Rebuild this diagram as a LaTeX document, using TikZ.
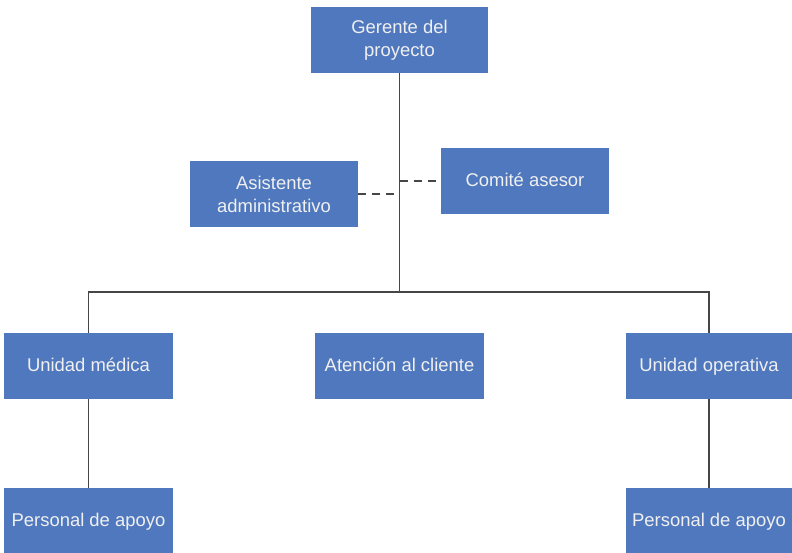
\documentclass[tikz,border=0pt]{standalone}
\usepackage{fontspec}
\setmainfont{Liberation Sans}
\usepackage{tikz}
\usetikzlibrary{positioning}
\definecolor{boxblue}{RGB}{80, 120, 190}
\definecolor{linegray}{RGB}{70, 70, 70}

\begin{document}
\begin{tikzpicture}[
      x=1bp, y=-1bp,
      every node/.style={font=\fontsize{18.5}{23}\selectfont},
      unit/.style={fill=boxblue, text=white!94!black, minimum width=169bp, minimum height=66bp,
                   align=center, inner sep=2pt, anchor=center},
      one/.style={unit, text height=1.15em, text depth=0pt},
      ln/.style={draw=linegray, line width=1.8bp},
      dln/.style={ln, dash pattern=on 8bp off 6bp}
    ]
      \useasboundingbox (0,0) rectangle (792,553);

      % top: manager and staff
      \node[unit, minimum width=177bp] (ger)  at (399.5,40)  {Gerente del\\proyecto};
      \node[unit, minimum width=168bp] (asis) at (274,194)   {Asistente\\administrativo};
      \node[one, minimum width=168bp]  (com)  at (525,181)   {Comité asesor};

      % middle: units
      \node[one] (med)  at (88.5,366)  {Unidad médica};
      \node[one] (aten) at (399.5,366) {Atención al cliente};
      \node[one, minimum width=166bp] (oper) at (709,366) {Unidad operativa};

      % bottom: support staff
      \node[one, minimum height=65bp] (apo1) at (88.5,520.5) {Personal de apoyo};
      \node[one, minimum width=166bp, minimum height=65bp] (apo2) at (709,520.5) {Personal de apoyo};

      % trunk and branches
      \coordinate (hub) at (399.5,292);
      \draw[ln] (ger.south) -- (hub);
      \draw[ln] (med.north) |- (hub) -| (oper.north);
      \draw[ln] (med) -- (apo1);
      \draw[ln] (oper) -- (apo2);

      % staff links
      \draw[dln] (asis.east) -- (asis.east -| ger.south);
      \draw[dln] (com.west -| ger.south) -- (com.west);
    \end{tikzpicture}
\end{document}
